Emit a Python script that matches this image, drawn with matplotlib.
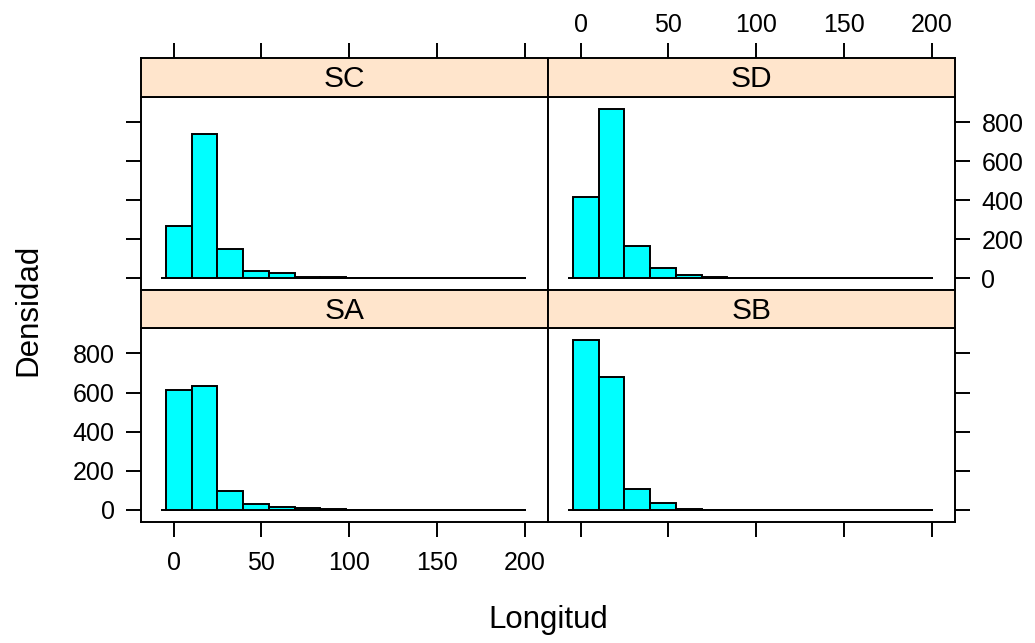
import numpy as np
import matplotlib
matplotlib.use("Agg")
import matplotlib.pyplot as plt

plt.rcParams['font.family'] = ['Liberation Sans', 'DejaVu Sans']

# Histogram bins (Longitud) shared by all panels
bin_edges = np.linspace(-4.4, 200.7, 15)

# Counts per bin for each group
counts_SA = [612, 632, 99, 30, 14, 9, 5, 2, 1, 1, 1, 0, 1, 0]
counts_SB = [868, 678, 109, 34, 6, 2, 1, 1, 1, 0, 0, 0, 0, 0]
counts_SC = [270, 738, 152, 39, 26, 8, 5, 3, 1, 3, 1, 3, 1, 1]
counts_SD = [417, 868, 164, 51, 15, 8, 2, 1, 1, 1, 1, 1, 1, 1]

groups = ["SC", "SD", "SA", "SB"]
group_counts = {"SA": counts_SA, "SB": counts_SB, "SC": counts_SC, "SD": counts_SD}

x_ticks = [0, 50, 100, 150, 200]
y_ticks = [0, 200, 400, 600, 800]
x_limits = (-18.6, 213.2)
y_limits = (-60, 930)

W, H = 1035, 643
fig = plt.figure(figsize=(W / 100, H / 100), dpi=100)


def rect(x0, y0, x1, y1):
    return [x0 / W, 1 - y1 / H, (x1 - x0) / W, (y1 - y0) / H]


col_x = [(141, 548), (548, 955)]
row_y = [((58, 97), (97, 290)), ((290, 328), (328, 521.7))]

LW = 1.4
tick_kw = dict(direction='out', length=11, width=LW, labelsize=18, colors='black')

for i, name in enumerate(groups):
    r, c = divmod(i, 2)
    (sy0, sy1), (py0, py1) = row_y[r]
    x0, x1 = col_x[c]

    ax = fig.add_axes(rect(x0, py0, x1, py1))
    ax_s = fig.add_axes(rect(x0, sy0, x1, sy1))

    counts = group_counts[name]
    widths = np.diff(bin_edges)
    ax.bar(bin_edges[:-1], counts, width=widths, align='edge',
           color='#00FFFF', edgecolor='black', linewidth=LW, zorder=2)
    base_pad = 0.2 * widths[0]
    ax.plot([bin_edges[0] - base_pad, bin_edges[-1]], [0, 0],
            color='black', linewidth=LW, zorder=1, solid_capstyle='butt')

    ax.set_xlim(*x_limits)
    ax.set_ylim(*y_limits)
    ax.set_xticks(x_ticks)
    ax.set_yticks(y_ticks)
    for sp in ax.spines.values():
        sp.set_linewidth(LW)

    right = (c == 1)
    bottom = (r == 1)
    ax.tick_params(axis='both', **tick_kw)
    ax.tick_params(axis='x', bottom=bottom, top=False,
                   labelbottom=(bottom and c == 0), labeltop=False, pad=10)
    ax.tick_params(axis='y', left=(c == 0), right=right,
                   labelleft=(c == 0 and r == 1),
                   labelright=(c == 1 and r == 0), pad=8)

    # Strip
    ax_s.set_facecolor('#FFE5CC')
    ax_s.set_xlim(*x_limits)
    ax_s.set_ylim(0, 1)
    ax_s.set_yticks([])
    for sp in ax_s.spines.values():
        sp.set_linewidth(LW)
    ax_s.text(0.5, 0.45, name, transform=ax_s.transAxes, ha='center',
              va='center', fontsize=21.5)
    if r == 0:
        ax_s.set_xticks(x_ticks)
        ax_s.tick_params(axis='x', **tick_kw)
        ax_s.tick_params(axis='x', bottom=False, top=True, labelbottom=False,
                         labeltop=(c == 1), pad=4)
    else:
        ax_s.set_xticks([])

fig.text(548 / W, 1 - 620 / H, "Longitud", ha='center', va='center', fontsize=22.5)
fig.text(28 / W, 1 - 310 / H, "Densidad", ha='center', va='center',
         rotation=90, fontsize=22.5)

fig.savefig("out.png", dpi=100)
